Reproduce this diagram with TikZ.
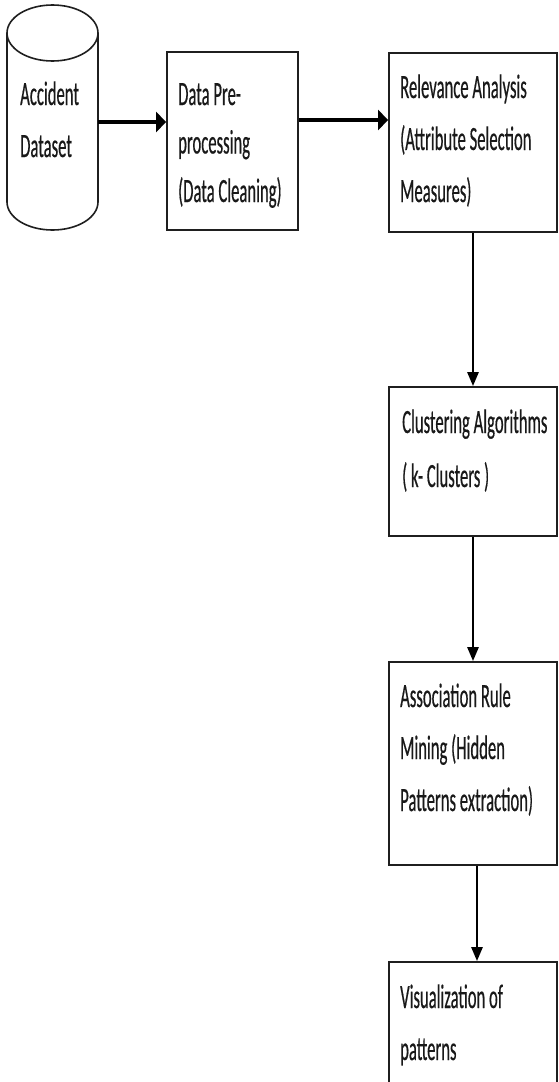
\documentclass[tikz,border=0pt]{standalone}
\usepackage{fontspec}
\setmainfont{Carlito}[FakeStretch=0.49,FakeBold=0.4]
\usetikzlibrary{arrows.meta}
\begin{document}
\begin{tikzpicture}[x=1pt,y=-1pt,
  box/.style={draw=black!88, line width=1.8pt, inner sep=0pt, minimum width=168pt},
  txt/.style={anchor=base west, align=left, inner sep=0pt, text=black!90, font=\fontsize{34}{52}\selectfont},
  harrow/.style={line width=4.5pt, draw=black, -{Triangle[length=10pt,width=20pt]}},
  varrow/.style={line width=2.6pt, draw=black, -{Triangle[length=14pt,width=11pt]}}]
\useasboundingbox (0,0) rectangle (558,1082);
\clip (0,0) rectangle (558,1082);
% cylinder
\draw[line width=1.6pt, draw=black!88] (52.5,33) ellipse [x radius=45.5pt, y radius=28pt];
\draw[line width=1.6pt, draw=black!88] (7,33) -- (7,202) arc[start angle=180, end angle=360, x radius=45.5pt, y radius=28pt] -- (98,33);
\node[inner sep=0pt, minimum width=91pt, minimum height=225pt] (ds) at (52.5,117.5) {};
% boxes
\node[box, minimum width=131pt, minimum height=178pt] (pp) at (232.5,141) {};
\node[box, minimum height=179pt] (ra) at (473,142.5) {};
\node[box, minimum height=149pt] (ca) at (473,461.5) {};
\node[box, minimum height=203pt] (ar) at (473,763.5) {};
\node[box, minimum height=158pt] (vp) at (473,1041) {};
% texts (anchored at the baseline of their last line)
\node[txt] (t0) at (20,157) {Accident\\Dataset};
\node[txt, font=\fontsize{34}{48.5}\selectfont] (t1) at (178,202) {Data Pre-\\processing\\(Data Cleaning)};
\node[txt] (t2) at (400,202) {Relevance Analysis\\(Attribute Selection\\Measures)};
\node[txt, font=\fontsize{34}{54}\selectfont] (t3) at (402,487) {Clustering Algorithms\\( k- Clusters )};
\node[txt] (t4) at (400,811) {Association Rule\\Mining (Hidden\\Patterns extraction)};
\node[txt] (t5) at (400,1060) {Visualization of\\patterns};
% connectors
\coordinate (a1) at ([yshift=-4.5pt]ds.east);
\draw[harrow] (a1) -- (a1 -| pp.west);
\coordinate (a2) at ([yshift=21pt]pp.east);
\draw[harrow] (a2) -- (a2 -| ra.west);
\draw[varrow] (ra.south) -- (ca.north);
\draw[varrow] (ca.south) -- (ar.north);
\draw[varrow] ([xshift=4pt]ar.south) -- ([xshift=4pt]vp.north);
\end{tikzpicture}
\end{document}
